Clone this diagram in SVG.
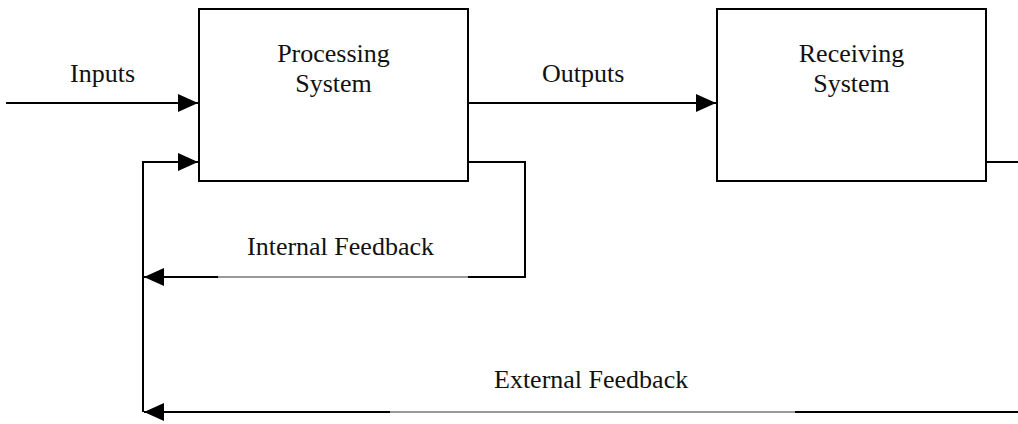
<svg xmlns="http://www.w3.org/2000/svg" width="1018" height="424" viewBox="0 0 1018 424">
<style>
.box{fill:#fff;stroke:#000;stroke-width:2}
.ln{fill:none;stroke:#000;stroke-width:2}
.gl{fill:none;stroke:#777;stroke-width:1.3}
.t{font-family:"Liberation Serif","Times New Roman",serif;font-size:26px;fill:#111}
</style>
<defs>
<marker id="ah" viewBox="0 0 20 18" refX="20" refY="9" markerWidth="20" markerHeight="18" markerUnits="userSpaceOnUse" orient="auto">
<path d="M0,0 L20,9 L0,18 Z" fill="#000"/>
</marker>
</defs>
<g id="connectors">
<line class="ln" x1="6" y1="103" x2="198" y2="103" marker-end="url(#ah)"/>
<line class="ln" x1="468" y1="103" x2="716" y2="103" marker-end="url(#ah)"/>
<polyline class="ln" points="143,412 143,162 198,162" marker-end="url(#ah)"/>
<polyline class="ln" points="468,162 525,162 525,277 468,277"/>
<line class="gl" x1="468" y1="277" x2="218" y2="277"/>
<line class="ln" x1="218" y1="277" x2="144" y2="277" marker-end="url(#ah)"/>
<polyline class="ln" points="986,162 1018,162"/>
<line class="ln" x1="1018" y1="412" x2="795" y2="412"/>
<line class="gl" x1="795" y1="412" x2="390" y2="412"/>
<line class="ln" x1="390" y1="412" x2="144" y2="412" marker-end="url(#ah)"/>
</g>
<g id="processing">
<rect class="box" x="199" y="9" width="269" height="172"/>
<text class="t" x="333.5" y="62" text-anchor="middle">Processing</text>
<text class="t" x="333.5" y="92" text-anchor="middle">System</text>
</g>
<g id="receiving">
<rect class="box" x="717" y="9" width="269" height="172"/>
<text class="t" x="851.5" y="62" text-anchor="middle">Receiving</text>
<text class="t" x="851.5" y="92" text-anchor="middle">System</text>
</g>
<g id="labels">
<text class="t" x="70" y="82">Inputs</text>
<text class="t" x="542" y="82">Outputs</text>
<text class="t" x="247" y="255">Internal Feedback</text>
<text class="t" x="494" y="388">External Feedback</text>
</g>
</svg>
